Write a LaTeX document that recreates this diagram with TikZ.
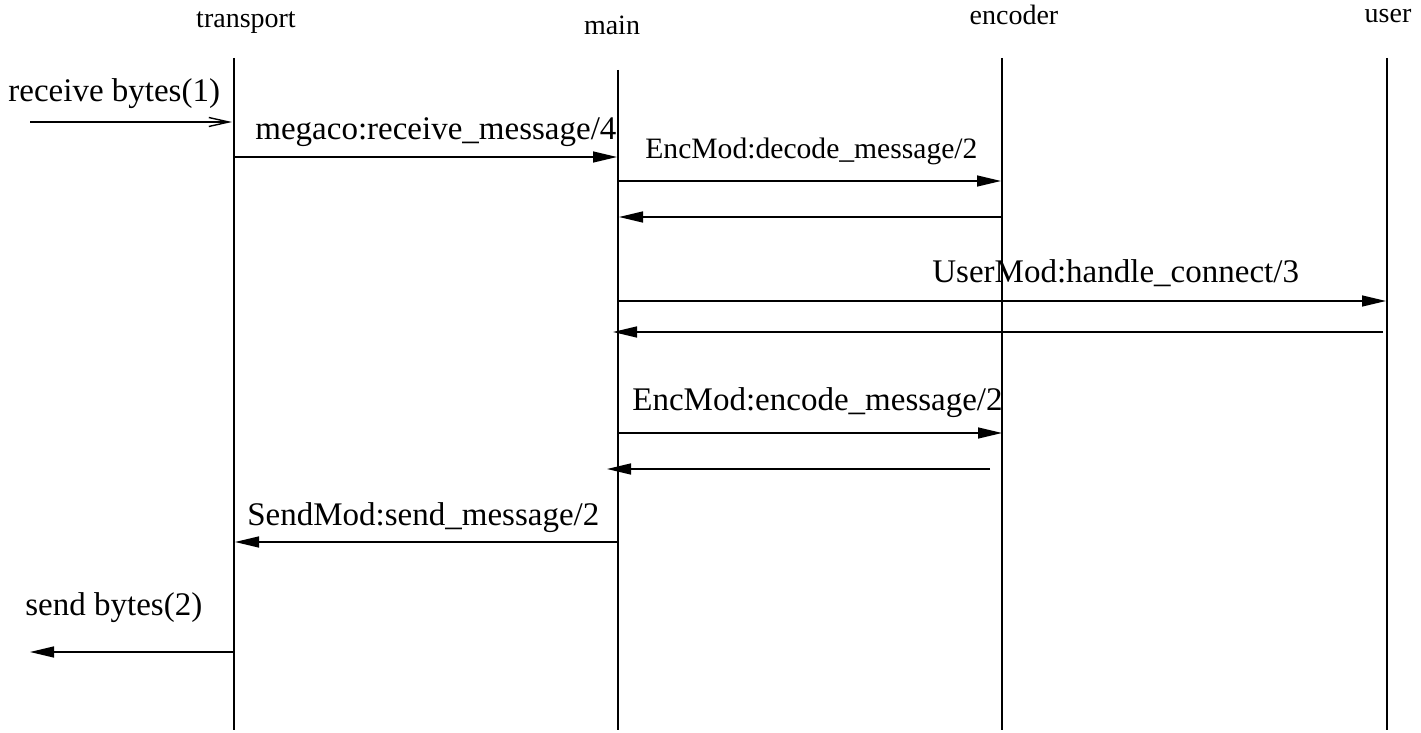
\documentclass[tikz,border=0pt]{standalone}
\usepackage{fontspec}
\setmainfont{Liberation Serif}
\usetikzlibrary{arrows.meta,calc}

\begin{document}
\begin{tikzpicture}[x=0.5pt,y=-0.5pt,
  lifeline/.style={line width=0.6pt},
  msg/.style={line width=0.7pt,-{Triangle[length=12pt,width=5.5pt]}},
  openmsg/.style={line width=0.7pt,-{Straight Barb[length=10pt,width=4.5pt]}},
  head/.style={inner sep=0pt,anchor=base,font=\fontsize{14}{16}\selectfont},
  lbl/.style={inner sep=0pt,anchor=base west,font=\fontsize{16.5}{19}\selectfont}]
 \useasboundingbox (0,0) rectangle (1421,733);
 % participants
 \node[head] (tr) at (246,28) {transport};
 \node[head] (mn) at (612,35) {main};
 \node[head] (en) at (1014,25) {encoder};
 \node[head] (us) at (1388,23) {user};
 \coordinate (tr top) at (234,58);  \coordinate (tr bot) at (234,730);
 \coordinate (mn top) at (618,70);  \coordinate (mn bot) at (618,730);
 \coordinate (en top) at (1002,58); \coordinate (en bot) at (1002,730);
 \coordinate (us top) at (1387,58); \coordinate (us bot) at (1387,730);
 \foreach \p in {tr,mn,en,us}
  \draw[lifeline] (\p\space top) -- (\p\space bot);
 % free ends
 \coordinate (in) at (30,122);
 \coordinate (out) at (30,652);
 % messages
 \draw[openmsg] (in) -- ($(tr top |- in)+(-2,0)$);
 \node[lbl] (recv) at (8,102) {receive bytes(1)};
 \draw[msg] (tr top |- 0,157) -- ($(mn top |- 0,157)+(-1,0)$);
 \node[lbl] (megaco) at (255,140) {megaco:receive\_message/4};
 \draw[msg] (mn top |- 0,181) -- ($(en top |- 0,181)+(-1,0)$);
 \node[lbl,font=\fontsize{14.8}{17}\selectfont] (dec) at (645,159) {EncMod:decode\_message/2};
 \draw[msg] (en top |- 0,217) -- ($(mn top |- 0,217)+(1,0)$);
 \draw[msg] (mn top |- 0,301) -- ($(us top |- 0,301)+(-1,0)$);
 \node[lbl] (conn) at (932,283) {UserMod:handle\_connect/3};
 \draw[msg] ($(us top |- 0,332)+(-4,0)$) -- ($(mn top |- 0,332)+(-5,0)$);
 \draw[msg] (mn top |- 0,433) -- (en top |- 0,433);
 \node[lbl] (enc) at (632,410) {EncMod:encode\_message/2};
 \draw[msg] ($(en top |- 0,469)+(-12,0)$) -- ($(mn top |- 0,469)+(-11,0)$);
 \draw[msg] (mn top |- 0,542) -- ($(tr top |- 0,542)+(1,0)$);
 \node[lbl] (send) at (247,525) {SendMod:send\_message/2};
 \draw[msg] (tr top |- out) -- (out);
 \node[lbl] (sendb) at (25,615) {send bytes(2)};
\end{tikzpicture}
\end{document}
